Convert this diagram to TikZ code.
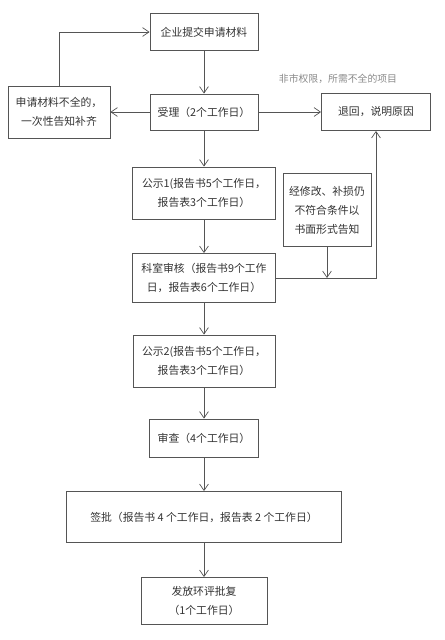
\documentclass[tikz,border=0pt]{standalone}
\usepackage{fontspec}
\setmainfont{Noto Sans CJK SC}
\usepackage{xcolor}
\usepackage{tikz}
\usetikzlibrary{arrows.meta, calc}

\definecolor{linegray}{HTML}{555555}
\definecolor{textgray}{HTML}{333333}
\definecolor{notegray}{HTML}{8A8A8A}

\begin{document}
\begin{tikzpicture}[
  x=0.025cm, y=-0.025cm,
  every node/.style={font=\fontsize{7.7}{13.5}\selectfont, text=textgray},
  box/.style={rectangle, draw=linegray, line width=0.6pt, fill=white, align=center, inner sep=1pt},
  arr/.style={-{Straight Barb[length=1.6mm, width=2.2mm]}, line width=0.5pt, linegray},
]
\useasboundingbox (0,0) rectangle (445,640);

% Top part
\node[box, minimum width=2.7cm, minimum height=0.925cm] (start) at (204,32) {企业提交申请材料};
\node[box, minimum width=2.7cm, minimum height=0.9cm] (accept) at (204,112) {受理（2个工作日）};
\node[box, minimum width=2.55cm, minimum height=1.3cm] (lack) at (59,112) {申请材料不全的，\\一次性告知补齐};
\node[box, minimum width=2.725cm, minimum height=0.925cm] (back) at (376,112) {退回，说明原因};
\node[font=\fontsize{7}{8}\selectfont, text=notegray] (note) at (338,79) {非市权限，所需不全的项目};

% Middle part
\node[box, minimum width=3.575cm, minimum height=1.3cm] (pub1) at (204,193) {公示1(报告书5个工作日，\\报告表3个工作日）};
\node[box, minimum width=2.2cm, minimum height=1.825cm] (revise) at (327,210) {经修改、补损仍\\不符合条件以\\书面形式告知};
\node[box, minimum width=3.575cm, minimum height=1.225cm] (review) at (204,278) {科室审核（报告书9个工作\\日，报告表6个工作日）};
\coordinate (join) at (revise.south |- review.east);

% Lower part
\node[box, minimum width=3.55cm, minimum height=1.3cm] (pub2) at (204,361) {公示2(报告书5个工作日，\\报告表3个工作日）};
\node[box, minimum width=2.725cm, minimum height=0.95cm] (check) at (204,438) {审查（4个工作日）};
\node[box, minimum width=6.875cm, minimum height=1.275cm] (sign) at (204,517) {签批（报告书 4 个工作日，报告表 2 个工作日）};
\node[box, minimum width=3.15cm, minimum height=1.175cm] (issue) at (204,601) {发放环评批复\\（1个工作日）};

% Arrows
\draw[arr] (start) -- (accept);
\draw[arr] (accept) -- (lack);
\draw[arr] (accept) -- (back);
\draw[arr] (lack.north) |- (start.west);
\draw[arr] (accept) -- (pub1);
\draw[arr] (pub1) -- (review);
\draw[arr] (review.east) -| (back.south);
\draw[arr] (revise.south) -- (join);
\draw[arr] (review) -- (pub2);
\draw[arr] (pub2) -- (check);
\draw[arr] (check) -- (sign);
\draw[arr] (sign) -- (issue);

\end{tikzpicture}
\end{document}
